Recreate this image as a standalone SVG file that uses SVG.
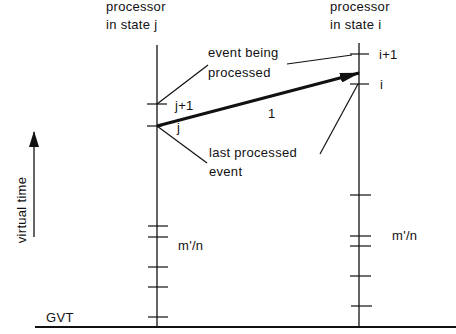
<svg xmlns="http://www.w3.org/2000/svg" width="456" height="334" viewBox="0 0 456 334">
<defs>
<style>
text{font-family:"Liberation Sans",Arial,sans-serif;font-size:13px;fill:#111;letter-spacing:0.3px}
.ax{stroke:#111;stroke-width:1.3;fill:none}
.tk{stroke:#111;stroke-width:1.2}
.ld{stroke:#111;stroke-width:1.2;fill:none}
</style>
<marker id="ah" markerWidth="20" markerHeight="10" refX="19" refY="5" orient="auto" markerUnits="userSpaceOnUse">
<path d="M0,0 L20,5 L0,10 Z" fill="#111"/>
</marker>
<marker id="ah2" markerWidth="10" markerHeight="16" refX="5" refY="1" orient="0" markerUnits="userSpaceOnUse">
<path d="M5,0 L10,16 L0,16 Z" fill="#111"/>
</marker>
</defs>
<rect width="456" height="334" fill="#fff"/>

<g id="baseline">
<line x1="35" y1="327" x2="456" y2="327" stroke="#111" stroke-width="2"/>
<text x="46" y="322">GVT</text>
</g>

<g id="proc-j">
<text x="106" y="11">processor</text>
<text x="106" y="29">in state j</text>
<line class="ax" x1="157" y1="45" x2="157" y2="327"/>
<line class="tk" x1="147" y1="104" x2="167" y2="104"/>
<line class="tk" x1="147" y1="126" x2="162" y2="126"/>
<line class="tk" x1="148" y1="226" x2="168" y2="226"/>
<line class="tk" x1="148" y1="237" x2="168" y2="237"/>
<line class="tk" x1="148" y1="267" x2="168" y2="267"/>
<line class="tk" x1="148" y1="287" x2="168" y2="287"/>
<line class="tk" x1="148" y1="317" x2="168" y2="317"/>
<text x="175" y="110">j+1</text>
<text x="177" y="132">j</text>
<text x="178" y="250">m'/n</text>
</g>

<g id="proc-i">
<text x="330" y="11">processor</text>
<text x="330" y="29">in state i</text>
<line class="ax" x1="359" y1="43" x2="359" y2="327"/>
<line class="tk" x1="350" y1="54" x2="369" y2="54"/>
<line class="tk" x1="350" y1="84" x2="369" y2="84"/>
<line class="tk" x1="350" y1="195" x2="371" y2="195"/>
<line class="tk" x1="350" y1="236" x2="371" y2="236"/>
<line class="tk" x1="350" y1="246" x2="371" y2="246"/>
<line class="tk" x1="350" y1="276" x2="371" y2="276"/>
<line class="tk" x1="351" y1="306" x2="372" y2="306"/>
<text x="379" y="59">i+1</text>
<text x="380" y="89">i</text>
<text x="392" y="240">m'/n</text>
</g>

<g id="label-event-being">
<text x="208" y="57">event being</text>
<text x="208" y="77">processed</text>
</g>

<g id="label-last">
<text x="209" y="157">last processed</text>
<text x="209" y="176">event</text>
</g>

<g id="label-one">
<text x="268" y="118">1</text>
</g>

<g id="vt-axis">
<text transform="translate(26,210) rotate(-90)" text-anchor="middle">virtual time</text>
<line x1="34" y1="237" x2="34" y2="132" stroke="#111" stroke-width="1.3" marker-end="url(#ah2)"/>
</g>

<g id="connectors">
<line x1="157" y1="126" x2="359" y2="73" stroke="#111" stroke-width="3" marker-end="url(#ah)"/>
<line class="ld" x1="157" y1="104" x2="208" y2="65"/>
<line class="ld" x1="287" y1="64" x2="352" y2="55"/>
<line class="ld" x1="157" y1="126" x2="207" y2="163"/>
<line class="ld" x1="358" y1="84" x2="320" y2="154"/>
</g>
</svg>
